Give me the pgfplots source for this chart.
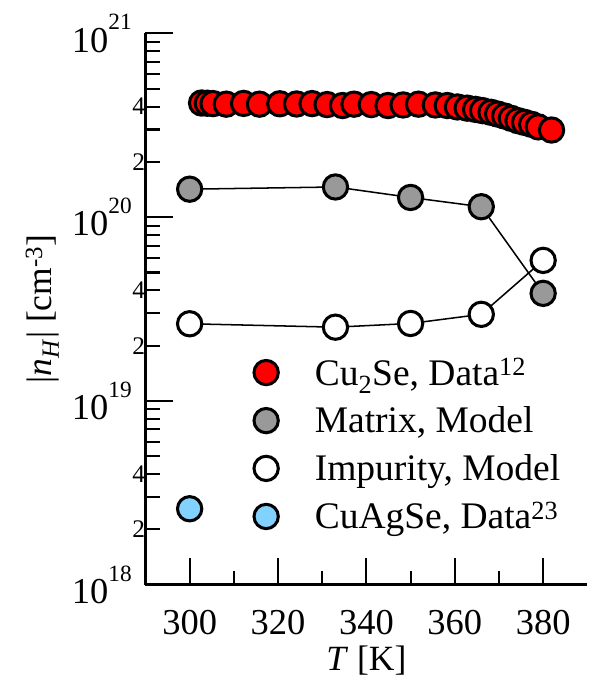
\documentclass[border=0pt]{standalone}
\usepackage{pgfplots}
\pgfplotsset{compat=1.18}
\usepackage{fontspec}
\setmainfont{Liberation Serif}

\definecolor{cured}{RGB}{255,0,0}
\definecolor{matgray}{RGB}{153,153,153}
\definecolor{agblue}{RGB}{130,210,255}

% decade label: 10 with a high, small exponent
\newcommand{\dec}[1]{10\raisebox{22pt}{\fontsize{23}{23}\selectfont #1}}

\pgfplotsset{
    dotlegend/.style={legend image code/.code={%
        \draw[##1] plot[only marks] coordinates {(0pt,0pt)};
        \path[draw=none] (-13pt,0pt) -- (46pt,0pt);}},
}

\begin{document}
\begin{tikzpicture}
\begin{semilogyaxis}[
    name=ax,
    scale only axis,
    width=436pt, height=544pt,
    xmin=290, xmax=390,
    ymin=1e18, ymax=1e21,
    axis x line=bottom, axis y line=left,
    axis line style={line width=2.5pt, -},
    every tick/.style={black, line width=2pt},
    tick align=inside,
    major tick length=27pt, minor tick length=14pt,
    xtick={300,320,340,360,380}, minor x tick num=1,
    ytick={1e18,1e19,1e20,1e21},
    yticklabels={\dec{18},\dec{19},\dec{20},\dec{21}},
    yticklabel style={xshift=-10pt},
    extra y ticks={2e18,4e18,2e19,4e19,2e20,4e20},
    extra y tick labels={2,4,2,4,2,4},
    extra y tick style={major tick length=14pt,
        yticklabel style={font=\fontsize{25}{30}\selectfont, xshift=13pt}},
    /pgf/number format/assume math mode=true,
    tick label style={font=\fontsize{36}{42}\selectfont},
    xticklabel style={yshift=-22pt},
    label style={font=\fontsize{35}{42}\selectfont},
    xlabel style={yshift=-4pt},
    ylabel shift=6pt,
    xlabel={\textit{T} [K]},
    ylabel={|\textit{n}\textsubscript{\textit{H}}| [cm\textsuperscript{-3}]},
    legend style={draw=none, fill=none, at={(0.236,0.418)}, anchor=north west,
        font=\fontsize{37}{42}\selectfont, row sep=16pt},
    legend cell align=left,
    clip=false,
]

% Cu2Se data
\addplot[only marks, mark=*, mark size=12pt,
    mark options={fill=cured, draw=black, line width=3pt}, dotlegend]
coordinates {
    (302.7,4.18e20) (304.0,4.17e20) (305.3,4.15e20) (308.3,4.12e20) (312.2,4.16e20)
    (315.8,4.12e20) (320.4,4.14e20) (324.2,4.13e20) (327.7,4.15e20) (331.1,4.10e20)
    (334.6,4.05e20) (337.2,4.12e20) (341.1,4.10e20) (344.9,4.05e20) (348.3,4.08e20)
    (351.8,4.12e20) (355.6,4.08e20) (358.3,4.05e20) (360.6,3.98e20) (362.8,3.92e20)
    (364.7,3.86e20) (366.3,3.80e20) (368.2,3.72e20) (369.7,3.64e20) (371.3,3.55e20)
    (372.8,3.45e20) (374.3,3.35e20) (375.8,3.28e20) (377.4,3.20e20) (378.9,3.10e20)
    (381.9,2.98e20)
};
\addlegendentry{Cu\textsubscript{2}Se, Data\textsuperscript{12}}

% Matrix model
\addplot[black, line width=1.5pt, mark=*, mark size=12pt,
    mark options={fill=matgray, draw=black, line width=3pt, solid}, dotlegend]
coordinates {
    (300,1.42e20) (333,1.46e20) (350,1.28e20) (366,1.14e20) (380,3.85e19)
};
\addlegendentry{Matrix, Model}

% Impurity model
\addplot[black, line width=1.5pt, mark=*, mark size=12pt,
    mark options={fill=white, draw=black, line width=3pt, solid}, dotlegend]
coordinates {
    (300,2.63e19) (333,2.52e19) (350,2.64e19) (366,2.96e19) (380,5.82e19)
};
\addlegendentry{Impurity, Model}

% CuAgSe data
\addplot[only marks, mark=*, mark size=12pt,
    mark options={fill=agblue, draw=black, line width=3pt}, dotlegend]
coordinates {
    (300,2.59e18)
};
\addlegendentry{CuAgSe, Data\textsuperscript{23}}

\end{semilogyaxis}
% blank margins above and to the left, as in the reference
\path (ax.north west) ++(0,33pt);
\path (current bounding box.west) ++(-22pt,0);
\end{tikzpicture}
\end{document}
